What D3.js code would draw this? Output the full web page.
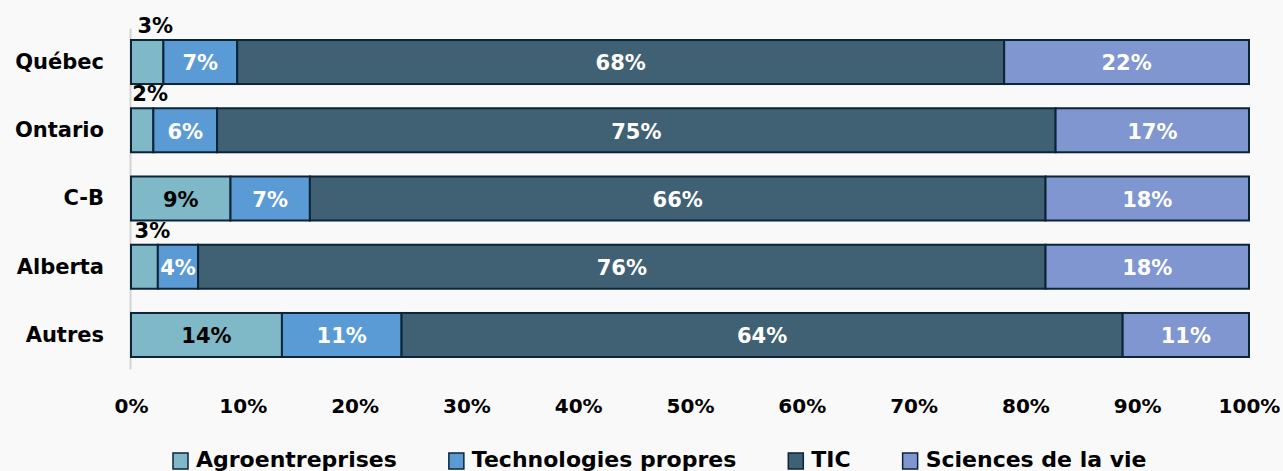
<!DOCTYPE html>
<html>
<head>
<meta charset="utf-8">
<script src="https://cdn.jsdelivr.net/npm/d3@7"></script>
<style>
  body { margin: 0; background: #f9f9f9; }
  svg { display: block; font-family: "DejaVu Sans", sans-serif; font-weight: bold; }
  .axis text { font-family: "DejaVu Sans", sans-serif; font-weight: bold; fill: #000; }
</style>
</head>
<body>
<div id="chart"></div>
<script>
// data
const categories = ["Québec", "Ontario", "C-B", "Alberta", "Autres"];
const seriesNames = ["Agroentreprises", "Technologies propres", "TIC", "Sciences de la vie"];
const agro = [2.9, 2.0, 8.9, 2.4, 13.5];
const techno = [6.6, 5.7, 7.1, 3.6, 10.7];
const tic = [68.6, 75.0, 65.8, 75.8, 64.5];
const sci = [21.9, 17.3, 18.2, 18.2, 11.3];
const agroLabels = ["3%", "2%", "9%", "3%", "14%"];
const technoLabels = ["7%", "6%", "7%", "4%", "11%"];
const ticLabels = ["68%", "75%", "66%", "76%", "64%"];
const sciLabels = ["22%", "17%", "18%", "18%", "11%"];
const xTicks = [0, 10, 20, 30, 40, 50, 60, 70, 80, 90, 100];

const colors = ["#7fb8c6", "#5b9bd5", "#406173", "#7f96d0"];
const labelColors = ["#000", "#fff", "#fff", "#fff"];
const edge = "#0c2438";

const W = 1283, H = 471;
const left = 131, right = 1249;

const svg = d3.select("#chart").append("svg")
  .attr("width", W)
  .attr("height", H);

svg.append("rect").attr("width", W).attr("height", H).attr("fill", "#f9f9f9");

const x = d3.scaleLinear().domain([0, 100]).range([left, right]);
const y = d3.scaleBand().domain(categories).range([28, 369])
  .paddingInner(0.355).paddingOuter(0.176);

// build stacked rows
const rows = categories.map((c, i) => ({
  cat: c, agro: agro[i], techno: techno[i], tic: tic[i], sci: sci[i]
}));
const keys = ["agro", "techno", "tic", "sci"];
const labels = { agro: agroLabels, techno: technoLabels, tic: ticLabels, sci: sciLabels };
const stacked = d3.stack().keys(keys)(rows);

// y axis (category labels + light grey line)
const yAxis = svg.append("g")
  .attr("class", "axis y-axis")
  .attr("transform", `translate(${left - 1},0)`)
  .call(d3.axisLeft(y).tickSize(0).tickPadding(26));
yAxis.select(".domain").attr("stroke", "#d4d4d4").attr("stroke-width", 2);
yAxis.selectAll("text").attr("font-size", 21).attr("dy", "0.33em");

// x axis
const xAxis = svg.append("g")
  .attr("class", "axis x-axis")
  .attr("transform", `translate(0,389)`)
  .call(d3.axisBottom(x).tickValues(xTicks).tickSize(0).tickPadding(10).tickFormat(d => d + "%"));
xAxis.select(".domain").remove();
xAxis.selectAll("text").attr("font-size", 20);

// bars
const layers = svg.append("g").selectAll("g")
  .data(stacked)
  .join("g")
    .attr("fill", (d, i) => colors[i]);

layers.selectAll("rect")
  .data(d => d.map(s => ({ s, key: d.key })))
  .join("rect")
    .attr("x", d => x(d.s[0]))
    .attr("y", d => y(d.s.data.cat))
    .attr("width", d => x(d.s[1]) - x(d.s[0]))
    .attr("height", y.bandwidth())
    .attr("stroke", edge)
    .attr("stroke-width", 2);

// value labels (narrow segments get their label above the bar)
stacked.forEach((layer, li) => {
  layer.forEach((s, ci) => {
    const w = x(s[1]) - x(s[0]);
    const txt = labels[layer.key][ci];
    const small = w < 36;
    svg.append("text")
      .attr("x", small ? (x(s[0]) + x(s[1])) / 2 + 8 : (x(s[0]) + x(s[1])) / 2)
      .attr("y", small ? y(s.data.cat) - 7 : y(s.data.cat) + y.bandwidth() / 2)
      .attr("dy", small ? 0 : "0.4em")
      .attr("text-anchor", "middle")
      .attr("font-size", 21)
      .attr("fill", small ? "#000" : labelColors[li])
      .text(txt);
  });
});

// legend
const legend = svg.append("g").attr("class", "legend");
let lx = 173;
seriesNames.forEach((name, i) => {
  legend.append("rect")
    .attr("x", lx).attr("y", 453)
    .attr("width", 15).attr("height", 16)
    .attr("fill", colors[i])
    .attr("stroke", edge)
    .attr("stroke-width", 1.5);
  const t = legend.append("text")
    .attr("x", lx + 23).attr("y", 467)
    .attr("font-size", 22)
    .attr("fill", "#000")
    .text(name);
  lx += 23 + t.node().getComputedTextLength() + 52;
});
</script>
</body>
</html>
